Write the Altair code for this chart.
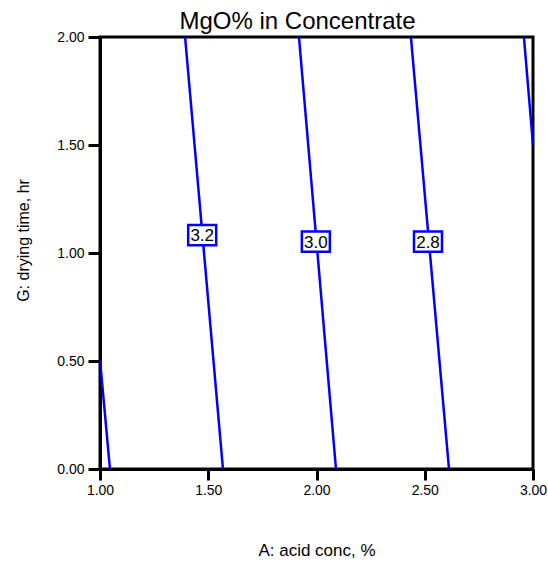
import altair as alt
import pandas as pd

# contour lines (level, A, G) endpoints
levels = [3.4, 3.4, 3.2, 3.2, 3.0, 3.0, 2.8, 2.8, 2.6, 2.6]
a_vals = [1.0, 1.046, 1.393, 1.568, 1.919, 2.090, 2.436, 2.612, 2.958, 3.0]
g_vals = [0.505, 0.0, 2.0, 0.0, 2.0, 0.0, 2.0, 0.0, 2.0, 1.5]
order = [0, 1, 0, 1, 0, 1, 0, 1, 0, 1]

lab_text = ["3.2", "3.0", "2.8"]
lab_a = [1.472, 1.997, 2.515]
lab_g = [1.083, 1.053, 1.053]

x_ticks = [1.0, 1.5, 2.0, 2.5, 3.0]
y_ticks = [0.0, 0.5, 1.0, 1.5, 2.0]

lines = pd.DataFrame({"level": [str(l) for l in levels], "A": a_vals, "G": g_vals, "o": order})
labels = pd.DataFrame({"t": lab_text, "A": lab_a, "G": lab_g})

FONT = "Liberation Sans"

xscale = alt.Scale(domain=[1, 3], nice=False, zero=False)
yscale = alt.Scale(domain=[0, 2], nice=False, zero=False)

xaxis = alt.Axis(values=x_ticks, format=".2f", title="A: acid conc, %", grid=False,
                 domainColor="black", domainWidth=3, tickColor="black", tickWidth=3, tickSize=11,
                 labelFont=FONT, labelFontSize=14, labelColor="black", labelPadding=3,
                 labelFlush=False,
                 titleFont=FONT, titleFontSize=17, titleFontWeight="normal", titleColor="black",
                 titlePadding=45)
yaxis = alt.Axis(values=y_ticks, format=".2f", title="G: drying time, hr", grid=False,
                 domainColor="black", domainWidth=3, tickColor="black", tickWidth=3, tickSize=12,
                 labelFont=FONT, labelFontSize=14, labelColor="black", labelPadding=4,
                 labelFlush=False,
                 titleFont=FONT, titleFontSize=16, titleFontWeight="normal", titleColor="black",
                 titlePadding=25, titleY=203)

line_layer = alt.Chart(lines).mark_line(color="#0000FF", strokeWidth=2.5, clip=True).encode(
    x=alt.X("A:Q", scale=xscale, axis=xaxis),
    y=alt.Y("G:Q", scale=yscale, axis=yaxis),
    detail="level:N",
    order="o:Q",
)

box_layer = alt.Chart(labels).mark_point(
    shape="M-1,-0.72L1,-0.72L1,0.72L-1,0.72Z", size=784, filled=False,
    fill="white", fillOpacity=1, stroke="#0000FF", strokeWidth=2.5, opacity=1,
).encode(x=alt.X("A:Q", scale=xscale), y=alt.Y("G:Q", scale=yscale))

text_layer = alt.Chart(labels).mark_text(
    font=FONT, fontSize=17, color="black", baseline="middle", align="center", dy=1
).encode(x=alt.X("A:Q", scale=xscale), y=alt.Y("G:Q", scale=yscale), text="t:N")

chart = alt.layer(line_layer, box_layer, text_layer).properties(
    width=433, height=432,
    background="white",
    title=alt.TitleParams("MgO% in Concentrate", font=FONT, fontSize=24, fontWeight="normal",
                          color="black", anchor="middle", dx=-19, offset=-4),
    autosize=alt.AutoSizeParams(type="none"),
    padding={"left": 100, "top": 37, "right": 15, "bottom": 96},
).configure_view(stroke="black", strokeWidth=3)

chart.save("out.html", embed_options={"renderer": "svg", "actions": False})
